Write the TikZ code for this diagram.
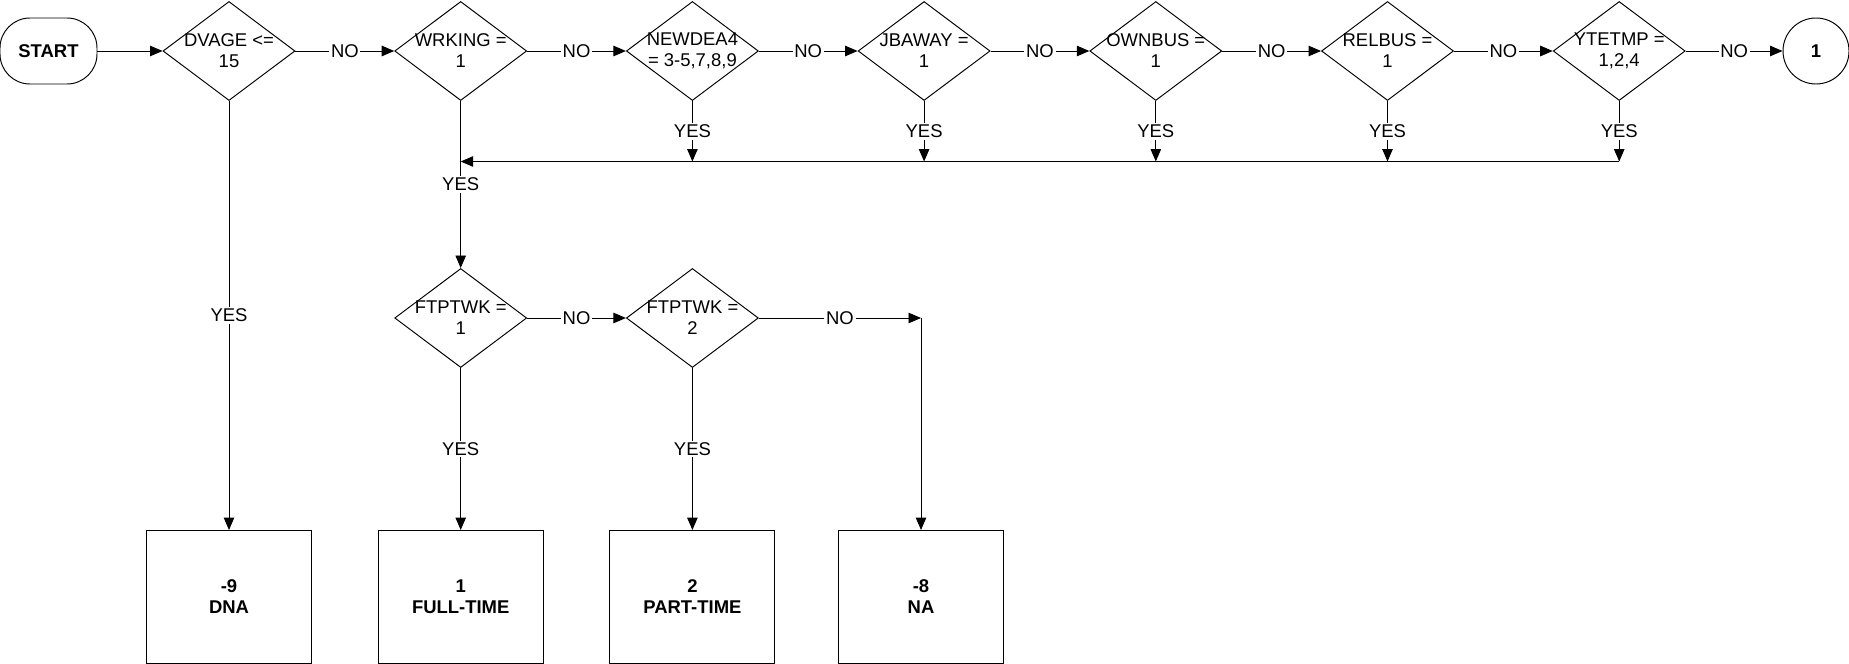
\documentclass[tikz,border=0pt]{standalone}
\usepackage{fontspec}
\setmainfont{Liberation Sans}
\usetikzlibrary{arrows.meta,positioning,shapes.geometric}

\begin{document}
\begin{tikzpicture}[
  line width=.55pt,
  every node/.style={font=\fontsize{10.5}{12}\selectfont},
  decision/.style={diamond, draw, inner sep=0pt, minimum width=2.64cm,
    minimum height=1.98cm, label={[align=center]center:#1}},
  outcome/.style={draw, minimum width=3.3cm, minimum height=2.66cm, align=center,
    font=\fontsize{10.5}{12}\selectfont\bfseries},
  terminal/.style={draw, rounded corners=.6cm, minimum width=1.94cm,
    minimum height=1.32cm, font=\fontsize{10.5}{12}\selectfont\bfseries},
  connector/.style={draw, circle, minimum size=1.32cm, inner sep=0pt,
    font=\fontsize{10.5}{12}\selectfont\bfseries},
  flow/.style={-{Triangle[length=2.5mm,width=2.1mm]}},
  answer/.style={fill=white, inner sep=1pt}
]
\useasboundingbox (0,0) rectangle (36.98,-13.28);
% top row of checks
\node[terminal] (start) at (.97,-1.02) {START};
\node[decision={DVAGE <=\\15}] (dvage) at (4.58,-1.02) {};
\node[decision={WRKING =\\1}] (wrking) at (9.214,-1.02) {};
\node[decision={NEWDEA4\\= 3-5,7,8,9}] (newdea) at (13.848,-1.02) {};
\node[decision={JBAWAY =\\1}] (jbaway) at (18.482,-1.02) {};
\node[decision={OWNBUS =\\1}] (ownbus) at (23.116,-1.02) {};
\node[decision={RELBUS =\\1}] (relbus) at (27.75,-1.02) {};
\node[decision={YTETMP =\\1,2,4}] (ytetmp) at (32.384,-1.02) {};
\node[connector] (cont) at (36.32,-1.02) {1};
% full-time / part-time checks
\node[decision={FTPTWK =\\1}] (ftptwk1) at (9.214,-6.36) {};
\node[decision={FTPTWK =\\2}] (ftptwk2) at (13.848,-6.36) {};
% outcomes
\node[outcome] (dna) at (4.58,-11.94) {-9\\DNA};
\node[outcome] (full) at (9.214,-11.94) {1\\FULL-TIME};
\node[outcome] (part) at (13.848,-11.94) {2\\PART-TIME};
\node[outcome] (na) at (18.42,-11.94) {-8\\NA};

\coordinate (join) at (wrking |- 0,-3.23);
\coordinate (nacorner) at (na |- ftptwk2);

\draw[flow] (start) -- (dvage);
\foreach \a/\b in {dvage/wrking,wrking/newdea,newdea/jbaway,jbaway/ownbus,
                   ownbus/relbus,relbus/ytetmp,ytetmp/cont}
  \draw[flow] (\a) -- node[answer]{NO} (\b);
\foreach \d in {newdea,jbaway,ownbus,relbus,ytetmp}
  \draw[flow] (\d) -- node[answer]{YES} (\d |- join);
\draw[flow] (ytetmp |- join) -- (join);
\draw[flow] (wrking) -- node[answer]{YES} (ftptwk1);
\draw[flow] (dvage) -- node[answer]{YES} (dna);
\draw[flow] (ftptwk1) -- node[answer]{NO} (ftptwk2);
\draw[flow] (ftptwk1) -- node[answer]{YES} (full);
\draw[flow] (ftptwk2) -- node[answer]{YES} (part);
\draw[flow] (ftptwk2) -- node[answer]{NO} (nacorner);
\draw[flow] (nacorner) -- (na);
\end{tikzpicture}
\end{document}
